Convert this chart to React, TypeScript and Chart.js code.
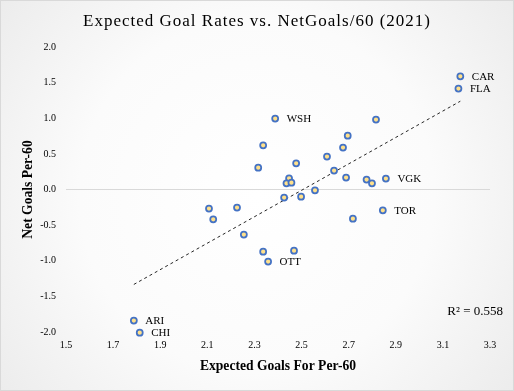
import React, { useEffect, useRef } from 'react';
import { Chart, registerables } from 'chart.js';

Chart.register(...registerables);

const teams = ['CAR', 'FLA', 'WSH', '', '', '', '', '', '', '', '', '', '', '', '', '', '', 'VGK', '', '', '', 'TOR', '', '', '', 'OTT', '', '', '', '', 'ARI', 'CHI'];
const xgf = [3.174, 3.166, 2.388, 2.816, 2.696, 2.337, 2.676, 2.608, 2.477, 2.316, 2.638, 2.689, 2.447, 2.776, 2.436, 2.457, 2.799, 2.858, 2.557, 2.498, 2.426, 2.845, 2.718, 2.337, 2.468, 2.358, 2.107, 2.226, 2.125, 2.255, 1.788, 1.813];
const netGoals = [1.589, 1.416, 0.995, 0.981, 0.756, 0.620, 0.588, 0.462, 0.368, 0.307, 0.265, 0.167, 0.157, 0.139, 0.087, 0.096, 0.087, 0.153, -0.011, -0.100, -0.114, -0.292, -0.409, -0.872, -0.858, -1.012, -0.268, -0.254, -0.418, -0.633, -1.840, -2.009];
const xTicks = [1.5, 1.7, 1.9, 2.1, 2.3, 2.5, 2.7, 2.9, 3.1, 3.3];
const yTicks = [-2.0, -1.5, -1.0, -0.5, 0.0, 0.5, 1.0, 1.5, 2.0];

const titleText = 'Expected Goal Rates vs. NetGoals/60 (2021)';
const xTitle = 'Expected Goals For Per-60';
const yTitle = 'Net Goals Per-60';
const r2Text = 'R² = 0.558';

const SERIF = '"Liberation Serif", "Times New Roman", serif';

function regression(xs: number[], ys: number[]) {
  const n = xs.length;
  const mx = xs.reduce((a, b) => a + b, 0) / n;
  const my = ys.reduce((a, b) => a + b, 0) / n;
  let sxy = 0, sxx = 0;
  for (let i = 0; i < n; i++) {
    sxy += (xs[i] - mx) * (ys[i] - my);
    sxx += (xs[i] - mx) * (xs[i] - mx);
  }
  const m = sxy / sxx;
  return { m, b: my - m * mx };
}

export default function App() {
  const ref = useRef<HTMLCanvasElement | null>(null);
  useEffect(() => {
    document.body.style.margin = '0';
    const canvas = ref.current;
    if (!canvas) return;
    const { m, b } = regression(xgf, netGoals);
    const minX = Math.min(...xgf);
    const maxX = Math.max(...xgf);

    const decor = {
      id: 'decor',
      beforeDraw(chart: any) {
        const { ctx, width, height } = chart;
        ctx.save();
        const g = ctx.createRadialGradient(width / 2, height / 2, 0, width / 2, height / 2, Math.sqrt(width * width + height * height) / 2);
        g.addColorStop(0, '#ffffff');
        g.addColorStop(0.55, '#fbfbfb');
        g.addColorStop(1, '#ececec');
        ctx.fillStyle = g;
        ctx.fillRect(0, 0, width, height);
        ctx.strokeStyle = '#d9d9d9';
        ctx.lineWidth = 1;
        ctx.strokeRect(0.5, 0.5, width - 1, height - 1);
        ctx.restore();
      },
      afterDraw(chart: any) {
        const { ctx, chartArea } = chart;
        ctx.save();
        ctx.fillStyle = '#000000';
        ctx.textBaseline = 'middle';
        ctx.textAlign = 'center';
        ctx.font = `17px ${SERIF}`;
        (ctx as any).letterSpacing = '1px';
        ctx.fillText(titleText, 257, 22);
        (ctx as any).letterSpacing = '0px';
        ctx.font = `bold 13.6px ${SERIF}`;
        ctx.fillText(xTitle, (chartArea.left + chartArea.right) / 2, 366);
        ctx.save();
        ctx.translate(28, (chartArea.top + chartArea.bottom) / 2);
        ctx.rotate(-Math.PI / 2);
        ctx.fillText(yTitle, 0, 0);
        ctx.restore();
        ctx.textAlign = 'right';
        ctx.font = `13px ${SERIF}`;
        ctx.fillText(r2Text, 503, 312);
        ctx.textAlign = 'left';
        ctx.font = `11px ${SERIF}`;
        const meta = chart.getDatasetMeta(1);
        meta.data.forEach((pt: any, i: number) => {
          if (teams[i]) ctx.fillText(teams[i], pt.x + 11.5, pt.y + 0.5);
        });
        ctx.restore();
      },
    };

    const chart = new Chart(canvas, {
      type: 'scatter',
      data: {
        datasets: [
          {
            type: 'line',
            data: [
              { x: minX, y: m * minX + b },
              { x: maxX, y: m * maxX + b },
            ],
            borderColor: '#262626',
            borderWidth: 1,
            borderDash: [3, 3],
            pointRadius: 0,
            fill: false,
            clip: false,
            order: 2,
          },
          {
            data: xgf.map((x, i) => ({ x, y: netGoals[i] })),
            pointRadius: 3,
            pointBorderWidth: 1.75,
            borderColor: '#4472c4',
            backgroundColor: '#ffe08a',
            clip: false,
            order: 1,
          },
        ],
      } as any,
      options: {
        animation: false,
        responsive: true,
        maintainAspectRatio: false,
        layout: { padding: { top: 47, right: 24, left: 0, bottom: 0 } },
        plugins: { legend: { display: false }, tooltip: { enabled: false }, title: { display: false } },
        scales: {
          x: {
            type: 'linear',
            min: 1.5,
            max: 3.3,
            afterBuildTicks: (s: any) => { s.ticks = xTicks.map((v) => ({ value: v })); },
            afterFit: (s: any) => { s.height = 59; },
            grid: { display: false, drawTicks: false },
            border: { display: false },
            ticks: {
              padding: 7,
              color: '#000000',
              font: { family: SERIF, size: 10 },
              callback: (v: any) => Number(v).toFixed(1),
            },
          },
          y: {
            type: 'linear',
            min: -2,
            max: 2,
            afterBuildTicks: (s: any) => { s.ticks = yTicks.map((v) => ({ value: v })); },
            afterFit: (s: any) => { s.width = 66; },
            grid: {
              drawTicks: false,
              color: (c: any) => (c.tick && c.tick.value === 0 ? '#d9d9d9' : 'rgba(0,0,0,0)'),
              lineWidth: 1,
            },
            border: { display: false },
            ticks: {
              padding: 10,
              color: '#000000',
              font: { family: SERIF, size: 10 },
              callback: (v: any) => Number(v).toFixed(1),
            },
          },
        },
      } as any,
      plugins: [decor],
    });
    return () => chart.destroy();
  }, []);
  return (
    <div style={{ position: 'relative', width: 514, height: 391 }}>
      <canvas ref={ref} />
    </div>
  );
}
